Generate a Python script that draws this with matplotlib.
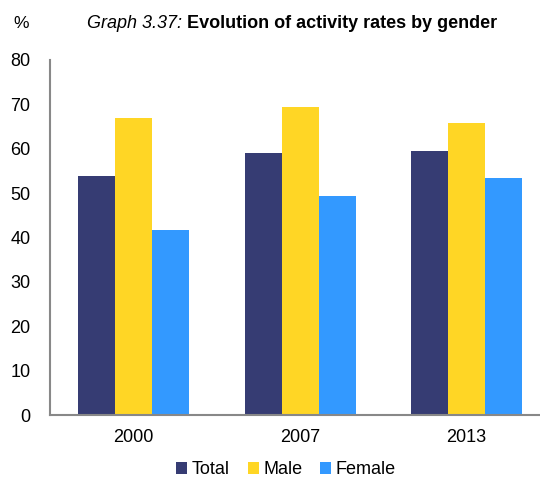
import numpy as np
import matplotlib.pyplot as plt

plt.rcParams['font.family'] = ['Liberation Sans', 'DejaVu Sans']

# Data
years = ['2000', '2007', '2013']
total = [53.9, 59.1, 59.4]
male = [66.9, 69.3, 65.9]
female = [41.7, 49.3, 53.3]

series = [('Total', total, '#363c73'), ('Male', male, '#ffd625'), ('Female', female, '#3399ff')]

fig = plt.figure(figsize=(5.4, 4.8), dpi=100)
ax = fig.add_axes([50 / 540, 65 / 480, 490 / 540, 355 / 480])

x = np.arange(len(years))
width = 0.222
for i, (name, vals, col) in enumerate(series):
    ax.bar(x + (i - 1) * width, vals, width, color=col, label=name, zorder=2)

ax.set_xlim(-0.5, 2.44)
ax.set_ylim(0, 80)
ax.set_yticks(range(0, 81, 10))
ax.set_xticks(x)
ax.set_xticklabels(years)
ax.tick_params(axis='both', length=0, labelsize=13, colors='black')
ax.tick_params(axis='y', pad=14)
ax.tick_params(axis='x', pad=10)
for s in ['top', 'right']:
    ax.spines[s].set_visible(False)
for s in ['left', 'bottom']:
    ax.spines[s].set_color('#888888')
    ax.spines[s].set_linewidth(1.5)

fig.legend(*ax.get_legend_handles_labels(), loc='center', bbox_to_anchor=(286 / 540, 1 - 470 / 480),
           ncol=3, frameon=False, fontsize=13, handlelength=0.6, handleheight=0.6,
           handletextpad=0.25, columnspacing=1.0)

# Title: italic prefix + bold text
ty = 1 - 23 / 480
fig.text(13 / 540, ty, '%', fontsize=12.5, va='center', ha='left')
t1 = fig.text(87 / 540, ty, 'Graph 3.37: ', fontsize=13, style='italic', va='center', ha='left')
fig.canvas.draw()
bb = t1.get_window_extent()
fig.text(bb.x1 / fig.bbox.width, ty, 'Evolution of activity rates by gender',
         fontsize=13, fontweight='bold', va='center', ha='left')

fig.savefig('out.png', dpi=100)
